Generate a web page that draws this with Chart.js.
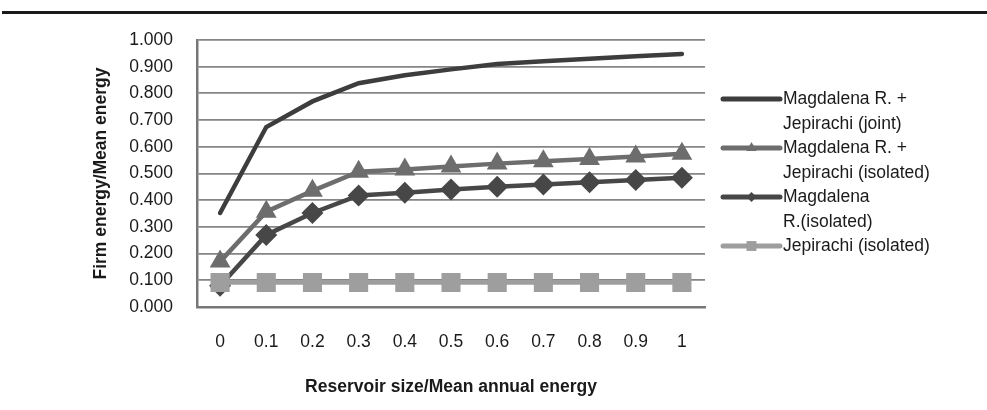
<!DOCTYPE html>
<html>
<head>
<meta charset="utf-8">
<script src="https://cdn.jsdelivr.net/npm/chart.js@4/dist/chart.umd.min.js"></script>
<style>
  html, body { margin: 0; padding: 0; background: #fff; }
  #wrap { position: relative; width: 987px; height: 410px; }
  #regua { position: absolute; left: 2px; right: 0; top: 11px; height: 0; border-top: 3px solid #1a1a1a; }
  canvas { position: absolute; left: 0; top: 0; }
</style>
</head>
<body>
<div id="wrap">
  <canvas id="grafico" width="987" height="410"></canvas>
  <div id="regua"></div>
</div>
<script>
const categorias = ["0", "0.1", "0.2", "0.3", "0.4", "0.5", "0.6", "0.7", "0.8", "0.9", "1"];

const conjunto = [0.352, 0.674, 0.770, 0.838, 0.868, 0.890, 0.910, 0.920, 0.930, 0.939, 0.948];
const somaIsolado = [0.170, 0.357, 0.435, 0.507, 0.515, 0.526, 0.537, 0.546, 0.554, 0.564, 0.574];
const magdalena = [0.080, 0.270, 0.352, 0.418, 0.428, 0.440, 0.450, 0.459, 0.467, 0.476, 0.484];
const jepirachi = [0.092, 0.092, 0.092, 0.092, 0.092, 0.092, 0.092, 0.092, 0.092, 0.092, 0.092];

const rotulos = [
  ["Magdalena R. +", "Jepirachi (joint)"],
  ["Magdalena R. +", "Jepirachi (isolated)"],
  ["Magdalena", "R.(isolated)"],
  ["Jepirachi (isolated)"]
];

const FONTE = "'Liberation Sans', Arial, sans-serif";
const TAM = 17.5;

// legenda desenhada à mão (rótulos em duas linhas)
const legendaPlugin = {
  id: "legendaLateral",
  afterDraw(chart) {
    const ctx = chart.ctx;
    const x0 = 723, x1 = 780, xt = 783;
    let y = 99;
    ctx.save();
    ctx.font = TAM + "px " + FONTE;
    ctx.textBaseline = "middle";
    ctx.textAlign = "left";
    chart.data.datasets.forEach((ds, i) => {
      ctx.strokeStyle = ds.borderColor;
      ctx.lineWidth = 5;
      ctx.lineCap = "round";
      ctx.beginPath();
      ctx.moveTo(x0, y);
      ctx.lineTo(x1, y);
      ctx.stroke();
      if (ds.pointStyle && ds.pointRadius > 0) {
        ctx.fillStyle = ds.pointBackgroundColor;
        ctx.strokeStyle = ds.pointBackgroundColor;
        Chart.helpers.drawPoint(ctx, {
          pointStyle: ds.pointStyle,
          radius: ds.legendRadius,
          rotation: 0,
          borderWidth: 0
        }, (x0 + x1) / 2, y);
      }
      ctx.fillStyle = "#1a1a1a";
      rotulos[i].forEach((t, k) => ctx.fillText(t, xt, y + k * 25));
      y += 49;
    });
    ctx.restore();
  }
};

new Chart(document.getElementById("grafico").getContext("2d"), {
  type: "line",
  data: {
    labels: categorias,
    datasets: [
      {
        label: rotulos[0].join(" "),
        data: conjunto,
        borderColor: "#3d3d3d",
        borderWidth: 4.5,
        borderCapStyle: "round",
        pointRadius: 0,
        pointStyle: false,
        legendRadius: 0,
        order: 4
      },
      {
        label: rotulos[1].join(" "),
        data: somaIsolado,
        borderColor: "#6d6d6d",
        borderWidth: 4.5,
        pointStyle: "triangle",
        pointRadius: 12,
        pointBackgroundColor: "#6d6d6d",
        pointBorderWidth: 0,
        legendRadius: 6,
        order: 3
      },
      {
        label: rotulos[2].join(" "),
        data: magdalena,
        borderColor: "#474747",
        borderWidth: 4.5,
        pointStyle: "rectRot",
        pointRadius: 11,
        pointBackgroundColor: "#474747",
        pointBorderWidth: 0,
        legendRadius: 5,
        order: 2
      },
      {
        label: rotulos[3].join(" "),
        data: jepirachi,
        borderColor: "#9e9e9e",
        borderWidth: 4.5,
        pointStyle: "rect",
        pointRadius: 13.5,
        pointBackgroundColor: "#9e9e9e",
        pointBorderWidth: 0,
        legendRadius: 7,
        order: 1
      }
    ]
  },
  options: {
    responsive: false,
    devicePixelRatio: 1,
    animation: false,
    layout: { padding: { left: 87, top: 40, right: 282, bottom: 0 } },
    elements: { line: { tension: 0 } },
    plugins: {
      legend: { display: false },
      tooltip: { enabled: false }
    },
    scales: {
      x: {
        type: "category",
        offset: true,
        grid: { display: false },
        border: { display: true, color: "#777", width: 2.5 },
        ticks: {
          color: "#1a1a1a",
          padding: 16.5,
          maxRotation: 0,
          autoSkip: false,
          font: { family: FONTE, size: TAM }
        },
        title: {
          display: true,
          text: "Reservoir size/Mean annual energy",
          color: "#1a1a1a",
          padding: { top: 0, bottom: 12 },
          font: { family: FONTE, size: TAM, weight: "bold" }
        },
        afterFit: s => { s.height = 103; }
      },
      y: {
        min: 0,
        max: 1,
        grid: { color: "#858585", lineWidth: 1.8, drawTicks: false },
        border: { display: true, color: "#777", width: 2.5 },
        ticks: {
          stepSize: 0.1,
          color: "#1a1a1a",
          padding: 24,
          font: { family: FONTE, size: TAM },
          callback: v => v.toFixed(3)
        },
        title: {
          display: true,
          text: "Firm energy/Mean energy",
          color: "#1a1a1a",
          padding: { top: 4, bottom: 0 },
          font: { family: FONTE, size: TAM, weight: "bold" }
        },
        afterFit: s => { s.width = 110; }
      }
    }
  },
  plugins: [legendaPlugin]
});
</script>
</body>
</html>
